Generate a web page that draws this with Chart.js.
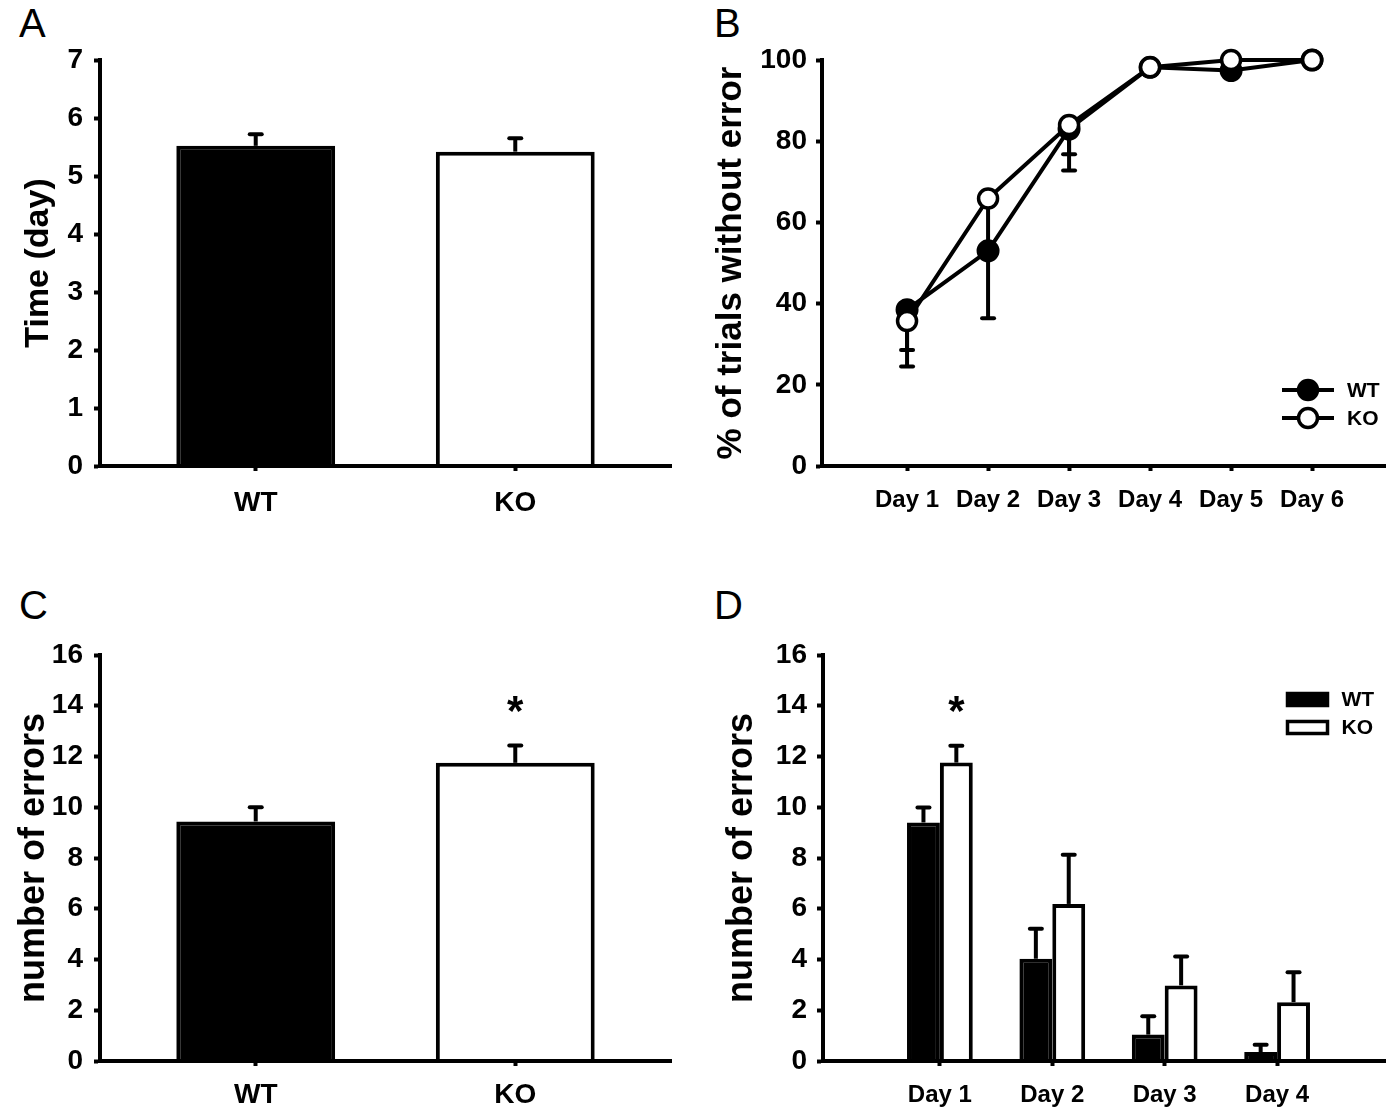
<!doctype html>
<html lang="en">
<head>
<meta charset="utf-8">
<title>WT vs KO</title>
<script src="https://cdn.jsdelivr.net/npm/chart.js@4.4.0/dist/chart.umd.min.js"></script>
<style>
  body { margin: 0; background: #fff; width: 1399px; height: 1113px; position: relative; overflow: hidden;
         font-family: "Liberation Sans", Arial, sans-serif; }
  .panel { position: absolute; }
  .tag { position: absolute; font-size: 40px; line-height: 1; color: #000; }
</style>
</head>
<body>

<div class="tag" style="left:19px;top:3px">A</div>
<div class="tag" style="left:714px;top:3px">B</div>
<div class="tag" style="left:19px;top:585px">C</div>
<div class="tag" style="left:714px;top:585px">D</div>

<div class="panel" style="left:0;top:0;width:700px;height:540px"><canvas id="chartA"></canvas></div>
<div class="panel" style="left:700px;top:0;width:699px;height:540px"><canvas id="chartB"></canvas></div>
<div class="panel" style="left:0;top:580px;width:700px;height:533px"><canvas id="chartC"></canvas></div>
<div class="panel" style="left:700px;top:580px;width:699px;height:533px"><canvas id="chartD"></canvas></div>

<script>
// A: tiempo hasta el criterio
var grupos = ['WT', 'KO'];
var tiempo = [5.52, 5.42];
var tiempoErr = [0.20, 0.23];

// B: % de ensayos sin error por dia
var dias = ['Day 1', 'Day 2', 'Day 3', 'Day 4', 'Day 5', 'Day 6'];
var aciertosWT = [38.5, 53.0, 83.0, 98.2, 97.4, 100];
var aciertosWTErr = [9.9, 16.6, 10.2, 0.8, 0.8, 0];
var aciertosKO = [35.7, 65.9, 84.0, 98.2, 100, 100];
var aciertosKOErr = [11.2, 12.5, 7.2, 0.5, 0, 0];

// C: numero total de errores
var errores = [9.44, 11.75];
var erroresErr = [0.56, 0.68];
var erroresSig = ['', '*'];

// D: errores por dia
var diasD = ['Day 1', 'Day 2', 'Day 3', 'Day 4'];
var erroresWT = [9.40, 4.03, 1.04, 0.35];
var erroresWTErr = [0.59, 1.18, 0.72, 0.29];
var erroresKO = [11.76, 6.19, 2.98, 2.32];
var erroresKOErr = [0.66, 1.94, 1.14, 1.18];
var erroresKOSig = ['*', '', '', ''];

Chart.defaults.font.family = '"Liberation Sans", Arial, sans-serif';
Chart.defaults.color = '#000';

function puntos(valores) {
    return valores.map(function (v, i) { return { x: i + 1, y: v }; });
}

// barras de error (y asterisco) dibujadas con las escalas del grafico
function dibujarErrores(chart, dir) {
    var ctx = chart.ctx;
    var yS = chart.scales.y;
    ctx.save();
    ctx.strokeStyle = '#000';
    ctx.fillStyle = '#000';
    ctx.lineWidth = 4;
    chart.data.datasets.forEach(function (ds, i) {
        if (!ds.errores) return;
        var meta = chart.getDatasetMeta(i);
        meta.data.forEach(function (el, j) {
            var v = ds.data[j].y;
            var e = ds.errores[j] || 0;
            var y0 = yS.getPixelForValue(v);
            var y1 = yS.getPixelForValue(v + dir * e);
            if (e > 0) {
                ctx.lineCap = 'butt';
                ctx.beginPath();
                ctx.moveTo(el.x, y0);
                ctx.lineTo(el.x, y1);
                ctx.stroke();
                ctx.lineCap = 'round';
                ctx.beginPath();
                ctx.moveTo(el.x - 6, y1);
                ctx.lineTo(el.x + 6, y1);
                ctx.stroke();
            }
            if (ds.sig && ds.sig[j]) {
                ctx.font = 'bold 42px "Liberation Sans", Arial, sans-serif';
                ctx.textAlign = 'center';
                ctx.textBaseline = 'alphabetic';
                ctx.fillText(ds.sig[j], el.x, y1 - 21);
            }
        });
    });
    ctx.restore();
}

var barrasError = {
    id: 'barrasError',
    beforeDatasetsDraw: function (chart, args, o) { if (o.debajo) dibujarErrores(chart, o.dir); },
    afterDatasetsDraw: function (chart, args, o) { if (!o.debajo) dibujarErrores(chart, o.dir); }
};

var leyenda = {
    id: 'leyenda',
    afterDraw: function (chart, args, o) {
        if (!o.tipo) return;
        var ctx = chart.ctx, a = chart.chartArea;
        ctx.save();
        chart.data.datasets.forEach(function (ds, i) {
            var cx = a.right + o.x, cy = a.top + o.y + i * o.gap;
            ctx.strokeStyle = '#000';
            ctx.lineWidth = 4;
            if (o.tipo === 'linea') {
                ctx.beginPath();
                ctx.moveTo(cx - 26, cy);
                ctx.lineTo(cx + 26, cy);
                ctx.stroke();
                ctx.beginPath();
                ctx.arc(cx, cy, 9.5, 0, Math.PI * 2);
                ctx.fillStyle = ds.pointBackgroundColor;
                ctx.fill();
                ctx.lineWidth = 3.5;
                ctx.stroke();
            } else {
                ctx.fillStyle = ds.backgroundColor;
                ctx.lineWidth = 3.5;
                ctx.fillRect(cx - 20, cy - 6, 40, 12);
                ctx.strokeRect(cx - 20, cy - 6, 40, 12);
            }
            ctx.fillStyle = '#000';
            ctx.font = 'bold 21px "Liberation Sans", Arial, sans-serif';
            ctx.textAlign = 'left';
            ctx.textBaseline = 'middle';
            ctx.fillText(ds.label, cx + o.texto, cy + 1);
        });
        ctx.restore();
    }
};

function ejeX(min, max, nombres, size, alto, pad) {
    return {
        type: 'linear', min: min, max: max, bounds: 'data', offset: false,
        afterBuildTicks: function (s) { s.ticks = nombres.map(function (n, i) { return { value: i + 1 }; }); },
        ticks: { color: '#000', font: { size: size, weight: 'bold' }, padding: pad, autoSkip: false, maxRotation: 0,
                 callback: function (v) { return nombres[v - 1]; } },
        grid: { drawOnChartArea: false, offset: false, tickLength: 5, tickColor: '#000', tickWidth: 4 },
        border: { color: '#000', width: 4, z: 1 },
        afterFit: function (s) { s.height = alto; }
    };
}

function ejeY(max, paso, titulo, tamTitulo, ancho, pad) {
    return {
        min: 0, max: max,
        ticks: { stepSize: paso, color: '#000', font: { size: 28, weight: 'bold' }, padding: pad },
        grid: { drawOnChartArea: false, tickLength: 6, tickColor: '#000', tickWidth: 4 },
        border: { color: '#000', width: 4, z: 1 },
        title: { display: true, text: titulo, color: '#000', font: { size: tamTitulo, weight: 'bold' }, padding: 0 },
        afterFit: function (s) { s.width = ancho; }
    };
}

function base(padding, extras) {
    var p = Object.assign({ legend: { display: false }, tooltip: { enabled: false } }, extras);
    return { responsive: true, maintainAspectRatio: false, animation: false, events: [],
             layout: { padding: padding }, plugins: p };
}

// A
var optA = base({ left: 18, top: 60, right: 29, bottom: 14 }, { barrasError: { dir: 1 } });
optA.scales = { x: ejeX(0.4, 2.6, grupos, 28, 60, 15), y: ejeY(7, 1, 'Time (day)', 34, 82, 11) };
new Chart(document.getElementById('chartA'), {
    type: 'bar',
    data: { datasets: [{
        data: puntos(tiempo), errores: tiempoErr,
        backgroundColor: ['#000', '#fff'], borderColor: '#000', borderWidth: 4, borderSkipped: 'start',
        categoryPercentage: 0.612, barPercentage: 1
    }] },
    options: optA,
    plugins: [barrasError]
});

// B
var optB = base({ left: 10, top: 60, right: 14, bottom: 18 }, {
    barrasError: { dir: -1, debajo: true },
    leyenda: { tipo: 'linea', x: -77, y: 330, gap: 28, texto: 39 }
});
optB.scales = { x: ejeX(-0.05, 6.9, dias, 24, 56, 15), y: ejeY(100, 20, '% of trials without error', 35, 112, 9) };
new Chart(document.getElementById('chartB'), {
    type: 'line',
    data: { datasets: [{
        label: 'WT', data: puntos(aciertosWT), errores: aciertosWTErr, order: 1, clip: false,
        borderColor: '#000', borderWidth: 4, tension: 0,
        pointRadius: 10, pointBorderWidth: 3, pointBackgroundColor: '#000', pointBorderColor: '#000'
    }, {
        label: 'KO', data: puntos(aciertosKO), errores: aciertosKOErr, order: 0, clip: false,
        borderColor: '#000', borderWidth: 4, tension: 0,
        pointRadius: 9.5, pointBorderWidth: 3.5, pointBackgroundColor: '#fff', pointBorderColor: '#000'
    }] },
    options: optB,
    plugins: [barrasError, leyenda]
});

// C
var optC = base({ left: 12, top: 75, right: 29, bottom: 2 }, { barrasError: { dir: 1 } });
optC.scales = { x: ejeX(0.4, 2.6, grupos, 28, 50, 12), y: ejeY(16, 2, 'number of errors', 36, 88, 11) };
new Chart(document.getElementById('chartC'), {
    type: 'bar',
    data: { datasets: [{
        data: puntos(errores), errores: erroresErr, sig: erroresSig,
        backgroundColor: ['#000', '#fff'], borderColor: '#000', borderWidth: 4, borderSkipped: 'start',
        categoryPercentage: 0.612, barPercentage: 1
    }] },
    options: optC,
    plugins: [barrasError]
});

// D
var optD = base({ left: 20, top: 75, right: 14, bottom: 0 }, {
    barrasError: { dir: 1 },
    leyenda: { tipo: 'barra', x: -77.5, y: 44.5, gap: 28, texto: 34 }
});
optD.scales = { x: ejeX(-0.04, 4.96, diasD, 24, 52, 15), y: ejeY(16, 2, 'number of errors', 36, 103, 10) };
new Chart(document.getElementById('chartD'), {
    type: 'bar',
    data: { datasets: [{
        label: 'WT', data: puntos(erroresWT), errores: erroresWTErr,
        backgroundColor: '#000', borderColor: '#000', borderWidth: 4, borderSkipped: 'start',
        categoryPercentage: 0.585, barPercentage: 1
    }, {
        label: 'KO', data: puntos(erroresKO), errores: erroresKOErr, sig: erroresKOSig,
        backgroundColor: '#fff', borderColor: '#000', borderWidth: 4, borderSkipped: 'start',
        categoryPercentage: 0.585, barPercentage: 1
    }] },
    options: optD,
    plugins: [barrasError, leyenda]
});
</script>

</body>
</html>
